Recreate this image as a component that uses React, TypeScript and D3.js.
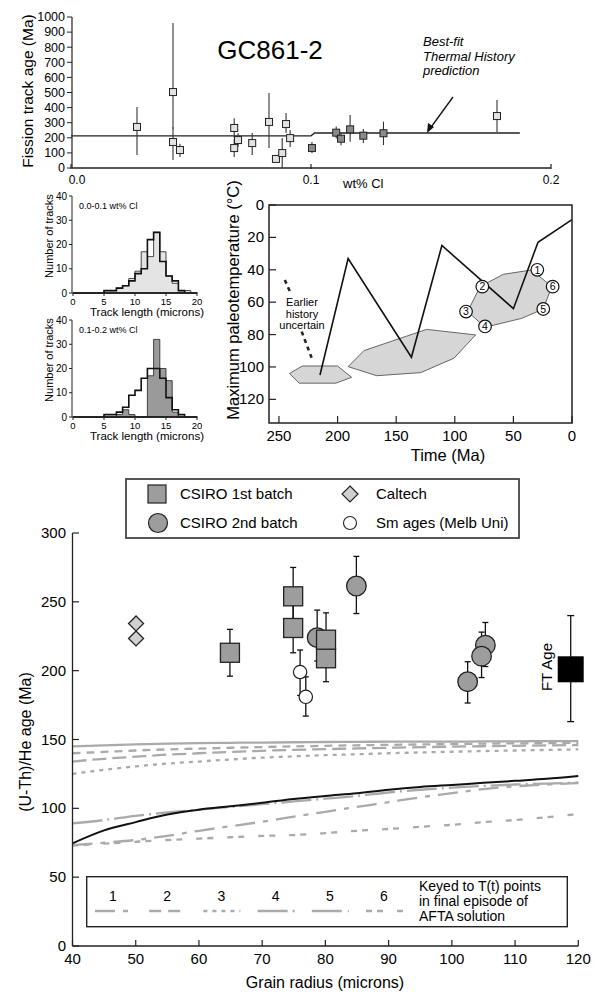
import React from 'react';
import * as d3 from 'd3';

const FONT = "'Liberation Sans', Arial, Helvetica, sans-serif";

// ---------- Top panel: fission track age vs wt% Cl ----------
const ftAgeTicks = [0, 100, 200, 300, 400, 500, 600, 700, 800, 900, 1000];
const clTicks = [0.0, 0.1, 0.2];
const lowClGrains = [
  { cl: 0.0275, age: 272, lo: 86, hi: 404 },
  { cl: 0.0425, age: 503, lo: 260, hi: 960 },
  { cl: 0.0425, age: 172, lo: 53, hi: 270 },
  { cl: 0.0454, age: 119, lo: 73, hi: 160 },
  { cl: 0.068, age: 265, lo: 200, hi: 330 },
  { cl: 0.068, age: 132, lo: 73, hi: 190 },
  { cl: 0.0696, age: 185, lo: 140, hi: 230 },
  { cl: 0.0755, age: 165, lo: 86, hi: 232 },
  { cl: 0.0825, age: 305, lo: 132, hi: 497 },
  { cl: 0.0854, age: 60, lo: 60, hi: 60 },
  { cl: 0.088, age: 99, lo: 0, hi: 198 },
  { cl: 0.0896, age: 291, lo: 232, hi: 364 },
  { cl: 0.0913, age: 198, lo: 139, hi: 251 },
  { cl: 0.1775, age: 344, lo: 238, hi: 450 },
];
const highClGrains = [
  { cl: 0.1004, age: 132, lo: 99, hi: 172 },
  { cl: 0.1105, age: 234, lo: 195, hi: 275 },
  { cl: 0.1125, age: 194, lo: 150, hi: 235 },
  { cl: 0.1163, age: 256, lo: 174, hi: 351 },
  { cl: 0.1218, age: 214, lo: 165, hi: 258 },
  { cl: 0.1302, age: 230, lo: 152, hi: 307 },
];
const bestFitCl = [0, 0.1, 0.1015, 0.187];
const bestFitAge = [213, 213, 232, 232];

// ---------- Track length histograms ----------
const binStarts = [0, 1, 2, 3, 4, 5, 6, 7, 8, 9, 10, 11, 12, 13, 14, 15, 16, 17, 18, 19];
const histLowGray = [0, 0, 0, 0, 0, 1, 1, 2, 3, 6, 9, 17, 15, 25, 17, 7, 4, 1, 1, 0];
const histLowOpen = [0, 0, 0, 0, 0, 1, 1, 2, 3, 5, 8, 10, 22, 25, 13, 7, 5, 1, 0, 0];
const histHighGray = [0, 0, 0, 0, 0, 0, 0, 1, 3, 1, 0, 0, 17, 32, 20, 15, 2, 0, 0, 0];
const histHighOpen = [0, 0, 0, 0, 0, 1, 1, 2, 4, 9, 11, 16, 20, 20, 16, 8, 3, 1, 0, 0];
const histLenTicks = [0, 5, 10, 15, 20];
const histCountTicks = [0, 10, 20, 30, 40];

// ---------- Thermal history panel ----------
const timeTicks = [250, 200, 150, 100, 50, 0];
const tempTicks = [0, 20, 40, 60, 80, 100, 120];
const pathTime = [215, 191, 137, 111, 50, 29, 0];
const pathTemp = [105, 33, 94, 25, 64, 23, 9];
const boxA = [[241, 104], [230, 99.4], [200, 99.4], [188, 106.4], [201.4, 110], [232.7, 110]];
const boxB = [[191, 99.8], [177.5, 89.9], [124, 76.8], [82.2, 80.2], [100.7, 94.6], [129.1, 103.5], [166.6, 105.4]];
const boxC = [[89, 65.8], [78.5, 50.4], [58.6, 42.8], [34.4, 40.1], [17.3, 50.4], [24.5, 64.2], [42.9, 70], [74.2, 75.5]];
const keyPoints = [
  { id: '1', t: 29.6, T: 40 },
  { id: '2', t: 76.5, T: 50.4 },
  { id: '3', t: 90.4, T: 65.8 },
  { id: '4', t: 74.2, T: 75 },
  { id: '5', t: 24.5, T: 64.2 },
  { id: '6', t: 16.5, T: 50.4 },
];
const earlyUpper = [[245, 46.3], [240, 54.5]];
const earlyLower = [[230.6, 78.2], [222, 94.6]];

// ---------- (U-Th)/He panel ----------
const radiusTicks = [40, 50, 60, 70, 80, 90, 100, 110, 120];
const heAgeTicks = [0, 50, 100, 150, 200, 250, 300];
const csiro1 = [
  { r: 64.9, age: 213, lo: 196, hi: 230 },
  { r: 74.9, age: 231, lo: 213, hi: 249 },
  { r: 74.9, age: 254, lo: 233, hi: 275 },
  { r: 80.1, age: 209, lo: 192, hi: 226 },
  { r: 80.1, age: 222.5, lo: 205, hi: 242 },
];
const csiro2 = [
  { r: 78.7, age: 224, lo: 207, hi: 244 },
  { r: 84.9, age: 261.5, lo: 241.5, hi: 283 },
  { r: 105.3, age: 218.5, lo: 203, hi: 235 },
  { r: 104.7, age: 210.5, lo: 195, hi: 228 },
  { r: 102.5, age: 192, lo: 176.5, hi: 206.5 },
];
const caltech = [
  { r: 50.05, age: 234.3 },
  { r: 50.05, age: 223.4 },
];
const smAges = [
  { r: 76, age: 199, lo: 182, hi: 215 },
  { r: 76.9, age: 181, lo: 167, hi: 195.5 },
];
const ftAge = { r: 118.8, age: 201, lo: 163, hi: 240 };

const modelRadius = [40, 45, 50, 55, 60, 65, 70, 75, 80, 85, 90, 95, 100, 105, 110, 115, 120];
const modelBest = [74.6, 84, 90, 95.5, 99, 101.5, 104, 106.8, 109, 111, 113.5, 115.5, 117, 118.5, 120, 121.5, 123.5];
const modelTop = [145, 145.8, 146.5, 147, 147.3, 147.6, 147.8, 148, 148.2, 148.3, 148.4, 148.5, 148.5, 148.6, 148.7, 148.8, 148.8];
const model1 = [73.3, 75, 77, 80, 83.7, 87, 90.3, 93.9, 97.5, 101, 104.5, 108, 111, 114, 116, 117.3, 118.4];
const model2 = [140, 141, 142, 142.8, 143.4, 144, 144.5, 145, 145.4, 145.8, 146.1, 146.4, 146.7, 147, 147.2, 147.4, 147.6];
const model3 = [125, 128, 130.5, 132.5, 134, 135.5, 136.8, 137.8, 138.6, 139.3, 140, 140.6, 141.1, 141.6, 142, 142.4, 142.8];
const model4 = [89, 91.5, 94.5, 97, 99, 101, 103, 105, 107, 109, 111.5, 113.5, 115, 116.3, 117.3, 118, 118.6];
const model5 = [134, 136, 137.5, 139, 140, 141, 141.8, 142.5, 143, 143.5, 144, 144.4, 144.8, 145.1, 145.4, 145.7, 146];
const model6 = [73, 74.3, 75.7, 77, 78, 79, 80, 80.6, 82, 83.7, 85, 86.6, 88, 90, 91.5, 93.5, 95.9];
const keyLabels = ['1', '2', '3', '4', '5', '6'];
const keyDashes = ['20,8,5,8', '12,7', '4,5', '30,5,2,5', '30,6,3,6', '6,5,6,14'];

const GRAY_LINE = '#aaaaaa';

function Histogram({ baseline, gray, open, fill, label }: { baseline: number; gray: number[]; open: number[]; fill: string; label: string }) {
  const x = d3.scaleLinear().domain([0, 20]).range([73, 197]);
  const y = d3.scaleLinear().domain([0, 40]).range([baseline, baseline - 97]);
  const mk = (vals: number[]) => {
    const pts = binStarts.map((b, i) => [b, vals[i]] as [number, number]);
    pts.push([20, 0]);
    return pts;
  };
  const area = d3.area<[number, number]>().x(d => x(d[0])).y0(baseline).y1(d => y(d[1])).curve(d3.curveStepAfter);
  return (
    <g>
      <path d={area(mk(gray)) || ''} fill={fill} stroke="#333" strokeWidth={0.9} />
      <path d={area(mk(open)) || ''} fill="none" stroke="#111" strokeWidth={1.6} />
      <line x1={72} x2={72} y1={baseline} y2={baseline - 97} stroke="#222" strokeWidth={1} />
      <line x1={72} x2={198} y1={baseline} y2={baseline} stroke="#222" strokeWidth={1.2} />
      {histCountTicks.map(t => (
        <g key={t}>
          <line x1={69} x2={72} y1={y(t)} y2={y(t)} stroke="#222" />
          <text x={67} y={y(t) + 3.5} fontSize={10} textAnchor="end">{t}</text>
        </g>
      ))}
      {histLenTicks.map(t => (
        <g key={t}>
          <line x1={x(t)} x2={x(t)} y1={baseline} y2={baseline + 3} stroke="#222" />
          <text x={x(t)} y={baseline + 12} fontSize={9.5} textAnchor="middle">{t}</text>
        </g>
      ))}
      <text x={147} y={baseline + 23} fontSize={11.5} textAnchor="middle">Track length (microns)</text>
      <text transform={`translate(53,${baseline - 57}) rotate(-90)`} fontSize={11} textAnchor="middle">Number of tracks</text>
      <text x={79} y={baseline - 84} fontSize={9}>{label}</text>
    </g>
  );
}

export default function App() {
  // Top panel scales
  const xCl = d3.scaleLinear().domain([0, 0.2]).range([71, 551]);
  const yFT = d3.scaleLinear().domain([0, 1000]).range([168, 17]);
  const bestLine = d3.line<number>().x((_, i) => xCl(bestFitCl[i])).y(d => yFT(d));

  // Thermal history scales
  const xT = d3.scaleLinear().domain([258.5, 0]).range([269, 572]);
  const yT = d3.scaleLinear().domain([0, 134.6]).range([205, 423]);
  const tPath = d3.line<number>().x((_, i) => xT(pathTime[i])).y(d => yT(d));
  const poly = d3.line<number[]>().x(d => xT(d[0])).y(d => yT(d[1])).curve(d3.curveLinearClosed);
  const seg = d3.line<number[]>().x(d => xT(d[0])).y(d => yT(d[1]));

  // He panel scales
  const xR = d3.scaleLinear().domain([40, 120]).range([72.5, 578.3]);
  const yH = d3.scaleLinear().domain([0, 300]).range([946, 533]);
  const mLine = (vals: number[]) =>
    d3.line<number>().x((_, i) => xR(modelRadius[i])).y(d => yH(d)).curve(d3.curveMonotoneX)(vals) || '';

  const grayModels = [
    { vals: modelTop, dash: undefined as string | undefined },
    { vals: model2, dash: '8,6' },
    { vals: model5, dash: '14,6' },
    { vals: model3, dash: keyDashes[2] },
    { vals: model4, dash: keyDashes[3] },
    { vals: model1, dash: keyDashes[0] },
    { vals: model6, dash: keyDashes[5] },
  ];

  const errBar = (cx: number, lo: number, hi: number, key: string, cap = 3) => (
    <g key={key}>
      <line x1={cx} x2={cx} y1={yH(lo)} y2={yH(hi)} stroke="#111" strokeWidth={1.3} />
      <line x1={cx - cap} x2={cx + cap} y1={yH(lo)} y2={yH(lo)} stroke="#111" strokeWidth={1.3} />
      <line x1={cx - cap} x2={cx + cap} y1={yH(hi)} y2={yH(hi)} stroke="#111" strokeWidth={1.3} />
    </g>
  );

  return (
    <svg width={593} height={993} style={{ position: 'absolute', left: 0, top: 0, background: '#fff' }} fontFamily={FONT}>
      <rect x={0} y={0} width={593} height={993} fill="#fff" />

      {/* ================= TOP PANEL ================= */}
      <g>
        <line x1={72} x2={72} y1={168} y2={17} stroke="#222" strokeWidth={1.2} />
        {ftAgeTicks.map(t => (
          <g key={t}>
            <line x1={67} x2={72} y1={yFT(t)} y2={yFT(t)} stroke="#222" />
            <text x={65} y={yFT(t) + 4.3} fontSize={12.5} textAnchor="end">{t}</text>
          </g>
        ))}
        <line x1={72} x2={xCl(0.2)} y1={168} y2={168} stroke="#222" strokeWidth={1.5} />
        {clTicks.map(t => (
          <g key={t}>
            <line x1={xCl(t)} x2={xCl(t)} y1={164} y2={169} stroke="#222" strokeWidth={1.2} />
            <text x={t === 0 ? xCl(t) + 6 : xCl(t)} y={184} fontSize={12} textAnchor="middle">{t.toFixed(1)}</text>
          </g>
        ))}
        <text x={343} y={188} fontSize={13}>wt% Cl</text>
        <text transform="translate(33,91) rotate(-90)" fontSize={15.5} textAnchor="middle">Fission track age (Ma)</text>
        <text x={270} y={59} fontSize={26} textAnchor="middle">GC861-2</text>
        <path d={bestLine(bestFitAge) || ''} fill="none" stroke="#222" strokeWidth={1.4} />
        {[...lowClGrains, ...highClGrains].map((g, i) => (
          <line key={'e' + i} x1={xCl(g.cl)} x2={xCl(g.cl)} y1={yFT(g.lo)} y2={yFT(g.hi)} stroke="#333" strokeWidth={1.1} />
        ))}
        {lowClGrains.map((g, i) => (
          <rect key={'l' + i} x={xCl(g.cl) - 3.5} y={yFT(g.age) - 3.5} width={7} height={7} fill="#e2e2e2" stroke="#222" strokeWidth={1} />
        ))}
        {highClGrains.map((g, i) => (
          <rect key={'h' + i} x={xCl(g.cl) - 3.5} y={yFT(g.age) - 3.5} width={7} height={7} fill="#8a8a8a" stroke="#222" strokeWidth={1} />
        ))}
        <text x={423} y={46} fontSize={13} fontStyle="italic">Best-fit</text>
        <text x={423} y={61} fontSize={13} fontStyle="italic">Thermal History</text>
        <text x={423} y={75} fontSize={13} fontStyle="italic">prediction</text>
        <line x1={453} y1={97} x2={429} y2={130} stroke="#111" strokeWidth={1.3} />
        <path d="M427,133 L428,123 L434,127 Z" fill="#111" />
      </g>

      {/* ================= HISTOGRAMS ================= */}
      <Histogram baseline={293} gray={histLowGray} open={histLowOpen} fill="#e4e4e4" label="0.0-0.1 wt% Cl" />
      <Histogram baseline={417} gray={histHighGray} open={histHighOpen} fill="#9a9a9a" label="0.1-0.2 wt% Cl" />

      {/* ================= THERMAL HISTORY ================= */}
      <g>
        <path d={poly(boxA) || ''} fill="#d6d6d6" stroke="#444" strokeWidth={0.8} />
        <path d={poly(boxB) || ''} fill="#d6d6d6" stroke="#444" strokeWidth={0.8} />
        <path d={poly(boxC) || ''} fill="#d6d6d6" stroke="#444" strokeWidth={0.8} />
        <path d={tPath(pathTemp) || ''} fill="none" stroke="#111" strokeWidth={1.6} />
        <path d={seg(earlyUpper) || ''} fill="none" stroke="#222" strokeWidth={2.6} strokeDasharray="4,4" />
        <path d={seg(earlyLower) || ''} fill="none" stroke="#222" strokeWidth={2.6} strokeDasharray="4,4" />
        <text x={302} y={306} fontSize={11} textAnchor="middle">Earlier</text>
        <text x={302} y={317.5} fontSize={11} textAnchor="middle">history</text>
        <text x={302} y={329} fontSize={11} textAnchor="middle">uncertain</text>
        {keyPoints.map(k => (
          <g key={k.id}>
            <circle cx={xT(k.t)} cy={yT(k.T)} r={6.3} fill="#fff" stroke="#111" strokeWidth={1.2} />
            <text x={xT(k.t)} y={yT(k.T) + 3.8} fontSize={10.5} textAnchor="middle">{k.id}</text>
          </g>
        ))}
        <rect x={269} y={205} width={303} height={218} fill="none" stroke="#222" strokeWidth={1.5} />
        {tempTicks.map(t => (
          <g key={t}>
            <line x1={269} x2={276} y1={yT(t)} y2={yT(t)} stroke="#222" strokeWidth={1.2} />
            <text x={264} y={yT(t) + 5} fontSize={15} textAnchor="end">{t}</text>
          </g>
        ))}
        {timeTicks.map(t => (
          <g key={t}>
            <line x1={xT(t)} x2={xT(t)} y1={423} y2={416} stroke="#222" strokeWidth={1.2} />
            <text x={xT(t)} y={441} fontSize={15} textAnchor="middle">{t}</text>
          </g>
        ))}
        <text x={448} y={461} fontSize={16.5} textAnchor="middle">Time (Ma)</text>
        <text transform="translate(239,300) rotate(-90)" fontSize={16.5} textAnchor="middle">Maximum paleotemperature (°C)</text>
      </g>

      {/* ================= LEGEND ================= */}
      <g>
        <rect x={126} y={479} width={393} height={59} fill="#fff" stroke="#444" strokeWidth={1.8} />
        <rect x={148} y={485} width={18} height={18} fill="#9d9d9d" stroke="#222" strokeWidth={1.2} />
        <text x={180} y={499} fontSize={15}>CSIRO 1st batch</text>
        <path d="M350,486 L358,494 L350,502 L342,494 Z" fill="#d0d0d0" stroke="#222" strokeWidth={1.2} />
        <text x={376} y={499} fontSize={15}>Caltech</text>
        <circle cx={158} cy={523} r={9.5} fill="#9d9d9d" stroke="#222" strokeWidth={1.2} />
        <text x={180} y={528} fontSize={15}>CSIRO 2nd batch</text>
        <circle cx={350} cy={523} r={6.5} fill="#fff" stroke="#222" strokeWidth={1.1} />
        <text x={376} y={528} fontSize={15}>Sm ages (Melb Uni)</text>
      </g>

      {/* ================= (U-Th)/He PANEL ================= */}
      <g>
        {grayModels.map((m, i) => (
          <path key={i} d={mLine(m.vals)} fill="none" stroke={GRAY_LINE} strokeWidth={2.3} strokeDasharray={m.dash} />
        ))}
        <path d={mLine(modelBest)} fill="none" stroke="#111" strokeWidth={2} />

        <line x1={72.5} x2={72.5} y1={946} y2={533} stroke="#222" strokeWidth={1.3} />
        {heAgeTicks.map(t => (
          <g key={t}>
            <line x1={72.5} x2={79} y1={yH(t)} y2={yH(t)} stroke="#222" strokeWidth={1.2} />
            <text x={66} y={yH(t) + 5} fontSize={15} textAnchor="end">{t}</text>
          </g>
        ))}
        <line x1={72.5} x2={578.3} y1={946} y2={946} stroke="#222" strokeWidth={1.3} />
        {radiusTicks.map(t => (
          <g key={t}>
            <line x1={xR(t)} x2={xR(t)} y1={946} y2={940} stroke="#222" strokeWidth={1.2} />
            <text x={xR(t)} y={964} fontSize={15} textAnchor="middle">{t}</text>
          </g>
        ))}
        <text x={325} y={988} fontSize={16} textAnchor="middle">Grain radius (microns)</text>
        <text transform="translate(31,742) rotate(-90)" fontSize={16} textAnchor="middle">(U-Th)/He age (Ma)</text>

        {/* error bars */}
        {csiro2.map((d, i) => errBar(xR(d.r), d.lo, d.hi, 'c2e' + i))}
        {csiro1.map((d, i) => errBar(xR(d.r), d.lo, d.hi, 'c1e' + i))}
        {smAges.map((d, i) => errBar(xR(d.r), d.lo, d.hi, 'sme' + i))}
        {errBar(xR(ftAge.r), ftAge.lo, ftAge.hi, 'fte', 3.5)}

        {/* markers */}
        {caltech.map((d, i) => {
          const cx = xR(d.r), cy = yH(d.age);
          return <path key={'ct' + i} d={`M${cx},${cy - 7.5} L${cx + 7.5},${cy} L${cx},${cy + 7.5} L${cx - 7.5},${cy} Z`} fill="#d0d0d0" stroke="#222" strokeWidth={1.3} />;
        })}
        <circle cx={xR(csiro2[0].r)} cy={yH(csiro2[0].age)} r={9.8} fill="#9d9d9d" stroke="#222" strokeWidth={1.3} />
        {csiro1.map((d, i) => (
          <rect key={'c1' + i} x={xR(d.r) - 9.5} y={yH(d.age) - 9.5} width={19} height={19} fill="#9d9d9d" stroke="#222" strokeWidth={1.3} />
        ))}
        {csiro2.slice(1).map((d, i) => (
          <circle key={'c2' + i} cx={xR(d.r)} cy={yH(d.age)} r={9.8} fill="#9d9d9d" stroke="#222" strokeWidth={1.3} />
        ))}
        {smAges.map((d, i) => (
          <circle key={'sm' + i} cx={xR(d.r)} cy={yH(d.age)} r={6.7} fill="#fff" stroke="#222" strokeWidth={1.2} />
        ))}
        <rect x={xR(ftAge.r) - 13} y={yH(ftAge.age) - 13} width={26} height={26} fill="#000" />
        <text transform="translate(552,667) rotate(-90)" fontSize={15} textAnchor="middle">FT Age</text>

        {/* key box */}
        <rect x={86.7} y={876.7} width={480.6} height={50} fill="#fff" stroke="#222" strokeWidth={1.4} />
        {keyLabels.map((k, i) => {
          const cx = 113 + i * 54.2;
          return (
            <g key={k}>
              <text x={cx} y={901} fontSize={14} textAnchor="middle">{k}</text>
              <line x1={cx - 18} x2={cx + 19} y1={911} y2={911} stroke={GRAY_LINE} strokeWidth={2.3} strokeDasharray={keyDashes[i]} />
            </g>
          );
        })}
        <text x={419} y={891} fontSize={14}>Keyed to T(t) points</text>
        <text x={419} y={906} fontSize={14}>in final episode of</text>
        <text x={419} y={921} fontSize={14}>AFTA solution</text>
      </g>
    </svg>
  );
}
